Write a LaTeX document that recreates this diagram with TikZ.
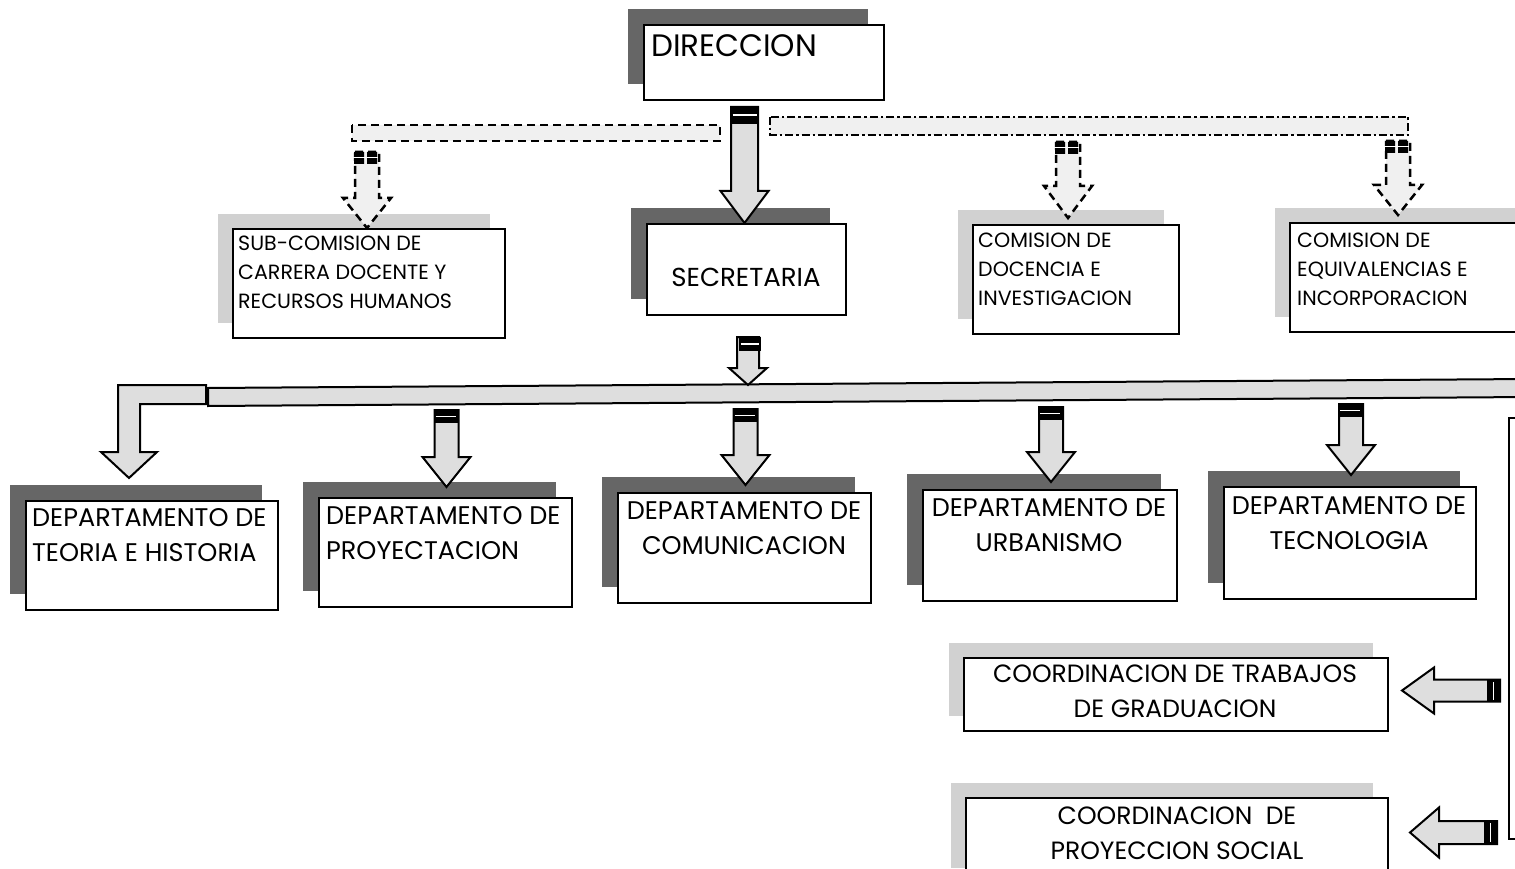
\documentclass[tikz,border=0pt]{standalone}
\usepackage{fontspec}
\setmainfont{Poppins}
\usetikzlibrary{calc,shadows}

% type sizes (size / leading)
\newcommand\sizeDir{\fontsize{31}{36}\selectfont}
\newcommand\sizeSec{\fontsize{26}{30}\selectfont}
\newcommand\sizeMid{\fontsize{25.5}{35}\selectfont}
\newcommand\sizeSmall{\fontsize{20.6}{29}\selectfont}
\newcommand\sizeCoord{\fontsize{25}{35}\selectfont}

\tikzset{
  box/.style={draw, line width=2pt, fill=white, rectangle, inner sep=0pt, anchor=north west},
  darkbox/.style={box, general shadow={fill=black!60, shadow xshift=-16pt, shadow yshift=16pt}},
  lightbox/.style={box, general shadow={fill=black!18, shadow xshift=-15pt, shadow yshift=15pt}},
  blk/.style={draw, line width=2pt, fill=black!13, line join=miter},
  dashblk/.style={draw, line width=2.5pt, fill=black!6, dash pattern=on 8pt off 5pt},
  dotdashblk/.style={draw, line width=2.5pt, fill=black!6, dash pattern=on 8pt off 3pt on 2.5pt off 3pt},
  lbl/.style={inner sep=0pt, text=black},
}

% block arrow pointing down: [opts]{top point}{tip point}{half shaft}{half head}{head length}
\newcommand\downblk[6][]{%
  \draw[blk,#1] let \p1=#2, \p2=#3 in
    (\x2-#4,\y1) -- (\x2+#4,\y1) -- (\x2+#4,\y2+#6) -- (\x2+#5,\y2+#6)
    -- (\x2,\y2) -- (\x2-#5,\y2+#6) -- (\x2-#4,\y2+#6) -- cycle;}
% block arrow pointing left: {right end point}{tip point}{half shaft}{half head}{head length}
\newcommand\leftblk[5]{%
  \draw[blk] let \p1=#1, \p2=#2 in
    (\x1,\y2+#3) -- (\x2+#5,\y2+#3) -- (\x2+#5,\y2+#4) -- (\x2,\y2)
    -- (\x2+#5,\y2-#4) -- (\x2+#5,\y2-#3) -- (\x1,\y2-#3) -- cycle;}
% black end cap of a vertical arrow: {top centre}{half width}{height}
\newcommand\vcap[3]{%
  \fill[black] let \p1=#1 in (\x1-#2,\y1) rectangle (\x1+#2,\y1-#3);
  \draw[white, line width=1.2pt] let \p1=#1 in (\x1-#2+2pt,\y1-#3/2) -- (\x1+#2-2pt,\y1-#3/2);}
% black end cap of a horizontal arrow: {right centre}{half height}{width}
\newcommand\hcap[3]{%
  \fill[black] let \p1=#1 in (\x1,\y1-#2) rectangle (\x1-#3,\y1+#2);
  \draw[white, line width=1.2pt] let \p1=#1 in (\x1-#3/2,\y1-#2+2pt) -- (\x1-#3/2,\y1+#2-2pt);}
% pair of small caps on a dashed arrow: {top centre}
\newcommand\dcap[1]{%
  \fill[black] let \p1=#1 in (\x1-12pt,\y1) rectangle (\x1-2pt,\y1-12pt)
    (\x1+1pt,\y1) rectangle (\x1+11pt,\y1-12pt);
  \draw[white, line width=1pt] let \p1=#1 in (\x1-13pt,\y1-6pt) -- (\x1+12pt,\y1-6pt);}

\begin{document}
\begin{tikzpicture}[x=1pt,y=-1pt]
\useasboundingbox (0,0) rectangle (1515,869);
\clip (0,0) rectangle (1515,869);

% ---------- top level ----------
\node[darkbox, minimum width=240pt, minimum height=75pt] (dir) at (643,24) {};
\node[lbl, anchor=north west, font=\sizeDir] (dir-t) at (651,34) {DIRECCION};

% ---------- second level ----------
\node[lightbox, minimum width=272pt, minimum height=109pt] (sub) at (232,228) {};
\node[lbl, anchor=north west, align=left, font=\sizeSmall] (sub-t) at (238,236)
  {SUB-COMISION DE\\CARRERA DOCENTE Y\\RECURSOS HUMANOS};

\node[darkbox, minimum width=199pt, minimum height=91pt] (secr) at (646,223) {};
\node[lbl, font=\sizeSec] (secr-t) at (746,277) {SECRETARIA};

\node[lightbox, minimum width=206pt, minimum height=109pt] (cdoc) at (972,224) {};
\node[lbl, anchor=north west, align=left, font=\sizeSmall] (cdoc-t) at (978,233)
  {COMISION DE\\DOCENCIA E\\INVESTIGACION};

\node[lightbox, minimum width=240pt, minimum height=109pt] (cequ) at (1289,222) {};
\node[lbl, anchor=north west, align=left, font=\sizeSmall] (cequ-t) at (1297,233)
  {COMISION DE\\EQUIVALENCIAS E\\INCORPORACION};

% ---------- departments ----------
\node[darkbox, minimum width=252pt, minimum height=109pt] (d1) at (25,500) {};
\node[lbl, anchor=north west, align=left, font=\sizeMid] (d1-t) at (32,508)
  {DEPARTAMENTO DE\\TEORIA E HISTORIA};
\node[darkbox, minimum width=253pt, minimum height=109pt] (d2) at (318,497) {};
\node[lbl, anchor=north west, align=left, font=\sizeMid] (d2-t) at (326,506)
  {DEPARTAMENTO DE\\PROYECTACION};
\node[darkbox, minimum width=253pt, minimum height=110pt] (d3) at (617,492) {};
\node[lbl, anchor=north, align=center, font=\sizeMid] (d3-t) at (744,501)
  {DEPARTAMENTO DE\\COMUNICACION};
\node[darkbox, minimum width=254pt, minimum height=111pt] (d4) at (922,489) {};
\node[lbl, anchor=north, align=center, font=\sizeMid] (d4-t) at (1049,498)
  {DEPARTAMENTO DE\\URBANISMO};
\node[darkbox, minimum width=252pt, minimum height=112pt] (d5) at (1223,486) {};
\node[lbl, anchor=north, align=center, font=\sizeMid] (d5-t) at (1349,496)
  {DEPARTAMENTO DE\\TECNOLOGIA};

% ---------- coordinations ----------
\node[lightbox, minimum width=424pt, minimum height=73pt] (c1) at (963,657) {};
\node[lbl, anchor=north, align=center, font=\sizeCoord] (c1-t) at (1175,665)
  {COORDINACION DE TRABAJOS\\DE GRADUACION};
\node[lightbox, minimum width=422pt, minimum height=85pt] (c2) at (965,797) {};
\node[lbl, anchor=north, align=center, font=\sizeCoord] (c2-t) at (1177,807)
  {COORDINACION\ \ DE\\PROYECCION SOCIAL};

% ---------- dashed distribution bars ----------
\coordinate (lb-nw) at (352,125);
\coordinate (lb-se) at (720,141);
\draw[dashblk] (lb-nw) rectangle (lb-se);
\coordinate (rb-nw) at (770,117);
\coordinate (rb-se) at (1408,135);
\draw[dotdashblk] (rb-nw) rectangle (rb-se);

\coordinate (sub-drop) at (366,152);
\coordinate (cdoc-drop) at (1067,142);
\coordinate (cequ-drop) at (1397,141);
\downblk[dashblk]{(sub-drop)}{($(sub.north)+(-2,0)$)}{12pt}{24pt}{30pt}
\downblk[dashblk]{(cdoc-drop)}{($(cdoc.north)+(-8,-6)$)}{12pt}{24pt}{32pt}
\downblk[dashblk]{(cequ-drop)}{($(cequ.north)+(-12,-7)$)}{12pt}{24pt}{30pt}
\dcap{(sub-drop)}
\dcap{(cdoc-drop)}
\dcap{(cequ-drop)}

% ---------- main arrow DIRECCION -> SECRETARIA ----------
\coordinate (dir-drop) at ($(dir.south -| secr.north)+(-2,6)$);
\downblk{(dir-drop)}{($(secr.north)+(-2,0)$)}{13.5pt}{24pt}{32pt}
\fill[black] let \p1=(dir-drop) in (\x1-13.5pt,\y1) rectangle (\x1+13.5pt,\y1-17pt);
\draw[white, line width=2pt] let \p1=(dir-drop) in (\x1-12pt,\y1-8pt) -- (\x1+12pt,\y1-8pt);

% ---------- department bar ----------
\coordinate (bar-l) at (208,397);
\draw[blk] (208,388) -- (1530,379) -- (1530,397) -- (208,406) -- cycle;

\coordinate (secr-drop) at ($(secr.south)+(3,21)$);
\downblk{(secr-drop)}{(748,385)}{11pt}{19pt}{17pt}
\vcap{(secr-drop)}{11pt}{14pt}

% L-shaped arrow to the first department
\draw[blk] let \p1=($(d1.north)+(-23,-22)$) in
  (206,385) -- (\x1-11pt,385) -- (\x1-11pt,\y1+26pt) -- (\x1-28pt,\y1+26pt)
  -- (\x1,\y1) -- (\x1+28pt,\y1+26pt) -- (\x1+11pt,\y1+26pt) -- (\x1+11pt,404)
  -- (206,404) -- cycle;

% arrows from the bar to the other departments
\foreach \d/\t/\e in {d2/410/-10, d3/409/-7, d4/407/-7, d5/404/-11}{
  \coordinate (\d-drop) at (\d.north |- 0,\t);
  \downblk{(\d-drop)}{($(\d.north)+(1,\e)$)}{12pt}{24pt}{30pt}
  \vcap{(\d-drop)}{12pt}{13pt}
}

% ---------- vertical bar on the right and coordination arrows ----------
\node[draw, line width=2pt, rectangle, inner sep=0pt, anchor=north west,
  minimum width=30pt, minimum height=421pt] (vbar) at (1508,417) {};

\coordinate (c1-feed) at ($(vbar.west |- c1.east)+(-8,-4)$);
\leftblk{(c1-feed)}{($(c1.east)+(13,-4)$)}{11pt}{23pt}{32pt}
\hcap{(c1-feed)}{11pt}{13pt}
\coordinate (c2-feed) at ($(vbar.west |- c2.east)+(-11,-8)$);
\leftblk{(c2-feed)}{($(c2.east)+(21,-8)$)}{11.5pt}{25pt}{29pt}
\hcap{(c2-feed)}{11.5pt}{13pt}
\end{tikzpicture}
\end{document}
